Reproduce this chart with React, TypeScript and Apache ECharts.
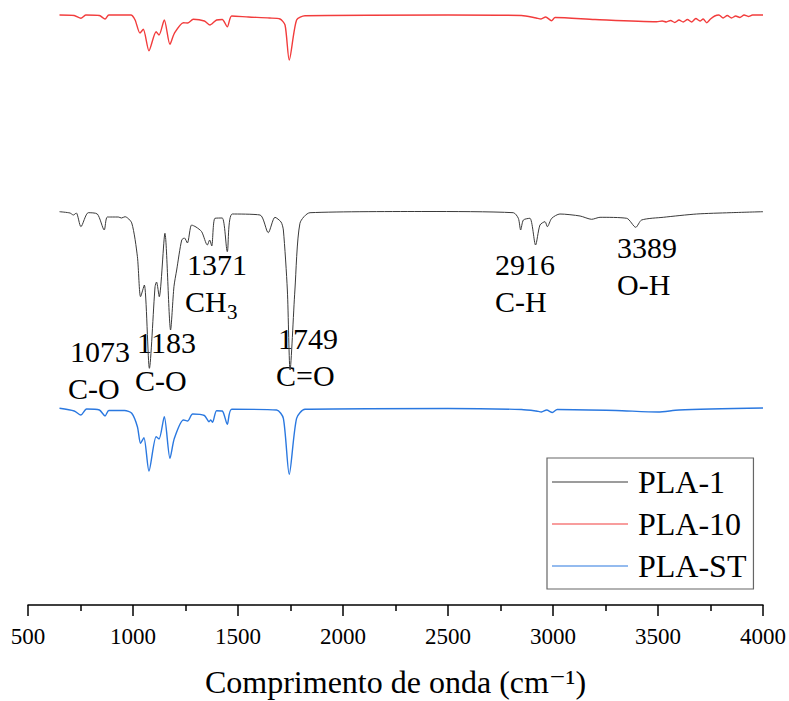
import React, { useEffect, useRef } from "react";
import * as echarts from "echarts";

// wavenumber (cm-1) vs. offset transmittance (arbitrary units, stacked traces)
const pla1: [number, number][] = [
  [650, 393.3], [700, 392], [716, 390], [730, 392], [752, 378.3], [787, 392.3], [830, 391], [863, 375],
  [878, 388], [930, 388], [945, 387], [962, 388.3], [994, 382], [1021, 348.3], [1036, 308.3], [1054, 320],
  [1078, 236.7], [1105, 318.3], [1112, 323], [1125, 308.3], [1152, 371.7], [1179, 275], [1195, 318.3],
  [1208, 335], [1232, 365], [1245, 367], [1259, 362], [1279, 380], [1300, 378], [1327, 373.3], [1354, 360],
  [1365, 365], [1375, 359], [1390, 386.7], [1425, 387], [1449, 353.3], [1473, 391], [1605, 390], [1644, 372.3],
  [1676, 387.7], [1705, 383], [1716, 375], [1735, 315], [1748, 235], [1771, 315], [1795, 381.7], [1843, 392.3],
  [2400, 393.5], [2811, 392.3], [2835, 386.7], [2846, 375], [2859, 385], [2890, 386.7], [2917, 360], [2938, 380],
  [2962, 383.3], [2973, 378.3], [2994, 386.7], [3033, 391], [3129, 389], [3184, 385.7], [3224, 387.7],
  [3351, 386.7], [3394, 377.7], [3422, 385], [3525, 387.7], [3684, 391], [3843, 392.3], [4000, 393.3],
];

const pla10: [number, number][] = [
  [650, 590], [720, 589.5], [752, 586.7], [775, 590], [840, 589.5], [867, 586], [885, 590], [990, 590],
  [1010, 585], [1033, 572], [1049, 575.7], [1076, 554.3], [1110, 573.3], [1124, 570], [1149, 585], [1176, 560.7],
  [1197, 571.7], [1240, 582.3], [1260, 582], [1287, 585.7], [1340, 584], [1367, 580], [1375, 581], [1398, 585],
  [1425, 585.5], [1449, 578.3], [1470, 589], [1550, 588], [1650, 587], [1700, 586], [1724, 580], [1744, 545],
  [1779, 585], [1819, 589.3], [2500, 590], [2850, 589.5], [2920, 587], [2943, 586], [2965, 588], [2993, 584.3],
  [3010, 587.5], [3200, 585.5], [3494, 583.3], [3520, 584], [3540, 583], [3560, 584.5], [3580, 582.5], [3600, 585],
  [3620, 583], [3640, 585.5], [3660, 583], [3680, 586.5], [3700, 584], [3715, 586], [3732, 582.3], [3750, 586],
  [3770, 589], [3790, 590], [3810, 587], [3830, 589.5], [3850, 587], [3870, 589], [3890, 587.5], [3910, 590],
  [3930, 588.5], [3950, 590], [4000, 590],
];

const plaST: [number, number][] = [
  [650, 196.7], [720, 194], [752, 190], [779, 196], [840, 195], [867, 189], [885, 194.5], [960, 194.5],
  [994, 191.7], [1021, 178.3], [1036, 161.7], [1052, 167.3], [1076, 134], [1110, 168.3], [1124, 166], [1149, 188.3],
  [1176, 146.7], [1197, 166.7], [1240, 185], [1260, 184], [1284, 191], [1340, 189.5], [1362, 183.3], [1370, 185],
  [1379, 182.7], [1398, 194.3], [1425, 194], [1449, 180.7], [1470, 195.7], [1684, 195], [1716, 186.7], [1744, 130.7],
  [1779, 186.7], [1819, 195.7], [2500, 196.5], [2850, 195.5], [2920, 194], [2945, 193], [2970, 195], [2997, 192.5],
  [3020, 195.5], [3300, 194.5], [3500, 193], [3600, 195], [4000, 197],
];

const seriesNames = ["PLA-1", "PLA-10", "PLA-ST"];
const seriesColors = ["#3a3a3a", "#f23c3c", "#2a78e0"];
const xTicks = { min: 500, max: 4000, step: 500 };

// annotation labels (peak wavenumber, group)
const peakLabels = ["1073", "1183", "1371", "1749", "2916", "3389"];
const groupLabels = ["C-O", "C-O", "CH", "C=O", "C-H", "O-H"];

const SERIF = '"Liberation Serif", "Times New Roman", "DejaVu Serif", serif';

export default function App() {
  const ref = useRef<HTMLDivElement>(null);
  useEffect(() => {
    if (!ref.current) return;
    document.body.style.margin = "0";
    const chart = echarts.init(ref.current, undefined, { renderer: "svg" });
    const numPos = [
      [70, 351], [137, 342], [187, 264], [278, 338], [495, 264], [617, 247],
    ];
    const grpPos = [
      [68, 388], [135, 380], [185, 301], [276, 375], [495, 301], [617, 284],
    ];
    const graphics: any[] = [];
    peakLabels.forEach((t, i) => {
      graphics.push({
        type: "text", x: numPos[i][0], y: numPos[i][1],
        style: { text: t, fontSize: 30, fontFamily: SERIF, fill: "#000", textAlign: "left", textVerticalAlign: "middle" },
      });
      graphics.push({
        type: "text", x: grpPos[i][0], y: grpPos[i][1],
        style: { text: groupLabels[i], fontSize: 30, fontFamily: SERIF, fill: "#000", textAlign: "left", textVerticalAlign: "middle" },
      });
    });
    graphics.push({
      type: "text", x: 227, y: 312,
      style: { text: "3", fontSize: 21, fontFamily: SERIF, fill: "#000", textAlign: "left", textVerticalAlign: "middle" },
    });

    const datasets = [pla1, pla10, plaST];
    chart.setOption({
      animation: false,
      backgroundColor: "#fff",
      grid: { left: 28, right: 26, top: 10, bottom: 96, containLabel: false, outerBoundsMode: "none" },
      legend: {
        orient: "vertical",
        left: 547,
        top: 458,
        padding: [8, 7, 7, 5],
        itemGap: 10,
        itemWidth: 76,
        itemHeight: 1.2,
        icon: "rect",
        borderColor: "#666",
        borderWidth: 1.2,
        textStyle: { fontSize: 32, fontFamily: SERIF, color: "#000", padding: [0, 0, 0, 5], lineHeight: 32 },
        data: seriesNames,
      },
      xAxis: {
        type: "value",
        min: xTicks.min,
        max: xTicks.max,
        interval: xTicks.step,
        name: "Comprimento de onda (cm\u207B\u00B9)",
        nameLocation: "middle",
        nameGap: 61,
        nameTextStyle: { fontSize: 32, lineHeight: 32, fontFamily: SERIF, color: "#000" },
        axisLine: { lineStyle: { color: "#000", width: 1.5 } },
        axisTick: { length: 11, lineStyle: { color: "#000", width: 1.5 } },
        minorTick: { show: true, splitNumber: 2, length: 6, lineStyle: { color: "#000", width: 1.5 } },
        splitLine: { show: false },
        minorSplitLine: { show: false },
        axisLabel: {
          fontSize: 23, fontFamily: SERIF, color: "#000", margin: 20,
          formatter: (v: number) => String(v),
        },
      },
      yAxis: { type: "value", min: 0, max: 595, show: false, splitLine: { show: false } },
      graphic: graphics,
      series: datasets.map((d, i) => ({
        name: seriesNames[i],
        type: "line",
        data: d,
        symbol: "none",
        showSymbol: false,
        smooth: 0.25,
        lineStyle: { color: seriesColors[i], width: i === 0 ? 1 : 1.4 },
        itemStyle: { color: seriesColors[i] },
      })),
    });
    return () => chart.dispose();
  }, []);
  return <div ref={ref} style={{ width: 789, height: 701 }} />;
}
